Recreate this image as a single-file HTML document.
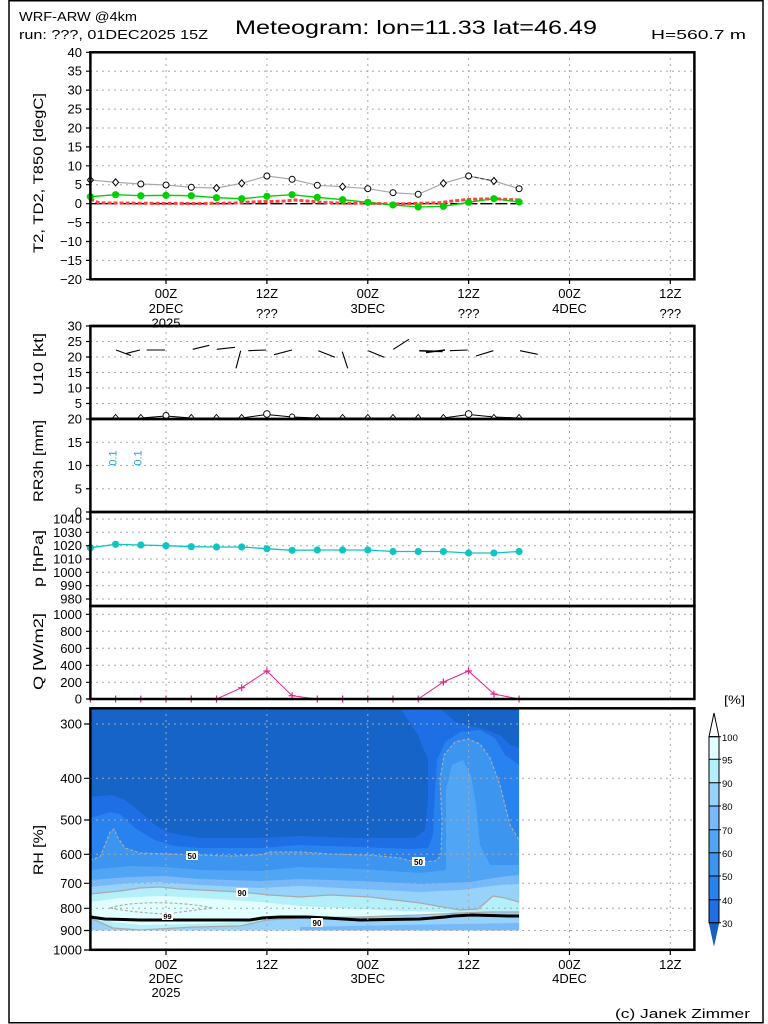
<!DOCTYPE html>
<html><head><meta charset="utf-8"><style>
html,body{margin:0;padding:0;background:#fff;}
svg{display:block;}
text{font-family:"Liberation Sans",sans-serif;fill:#000;}
</style></head><body>
<svg width="768" height="1024" viewBox="0 0 768 1024" xmlns="http://www.w3.org/2000/svg">
<defs>
<clipPath id="rhclip"><rect x="90.4" y="708.3" width="428.7" height="222.2"/></clipPath>
</defs>
<rect width="768" height="1024" fill="#fff"/>
<rect x="9" y="0.75" width="754" height="1022" fill="none" stroke="#000" stroke-width="1.5"/>

<!-- header -->
<text x="19" y="21" font-size="12.5" textLength="118" lengthAdjust="spacingAndGlyphs">WRF-ARW @4km</text>
<text x="19" y="39" font-size="12.5" textLength="189" lengthAdjust="spacingAndGlyphs">run: ???, 01DEC2025 15Z</text>
<text x="235" y="34" font-size="19" textLength="362" lengthAdjust="spacingAndGlyphs">Meteogram: lon=11.33 lat=46.49</text>
<text x="651" y="39" font-size="12.5" textLength="95" lengthAdjust="spacingAndGlyphs">H=560.7 m</text>

<!-- RH fill -->
<g clip-path="url(#rhclip)">
<rect x="90" y="708" width="430" height="223" fill="#1664c8"/>
<path fill="#1e6ee6" d="M90,797 L112,795 L125,800 L140,812 L155,825 L170,833 L200,838 L260,838 L300,836 L350,838 L415,838 L425,830 L428,800 L428,760 L418,735 L405,715 L400,708 L440,708 L455,722 L480,728 L500,735 L510,745 L519,748 L519,931 L90,931 Z"/>
<path fill="#2882f0" d="M90,818 L100,815 L110,812 L120,814 L135,828 L155,840 L175,846 L200,848 L260,848 L300,845 L360,847 L410,849 L428,848 L433,835 L435,790 L437,760 L445,742 L460,732 L480,730 L495,738 L505,755 L519,765 L519,931 L90,931 Z"/>
<path fill="#3c96f0" d="M90,860 L100,857 L105,845 L110,832 L114,829 L118,838 L125,848 L140,853 L170,854 L200,855 L230,856 L260,855 L270,852 L300,852 L330,854 L370,855 L400,858 L415,862 L435,861 L441,856 L442,820 L440,780 L444,755 L455,742 L468,739 L480,744 L490,758 L500,785 L510,825 L519,840 L519,931 L90,931 Z"/>
<path fill="#50a5f5" d="M90,870 L130,866 L165,867 L200,870 L260,871 L300,867 L360,869 L420,873 L446,870 L446,790 L452,765 L463,760 L471,775 L476,805 L480,845 L490,865 L519,865 L519,931 L90,931 Z"/>
<path fill="#78b9fa" d="M90,880 L130,877 L165,876 L200,879 L260,881 L300,879 L360,881 L420,884 L470,882 L500,877 L519,875 L519,931 L90,931 Z"/>
<path fill="#96d2fa" d="M90,887 L130,883 L160,882 L200,885 L260,888 L300,886 L360,889 L420,892 L460,890 L500,885 L519,884 L519,931 L90,931 Z"/>
<path fill="#b4f0fa" d="M90,894 L120,891 L140,888 L160,887 L180,889 L240,892 L270,895 L300,897 L330,895 L370,897 L420,903 L460,910 L478,909 L485,903 L493,896 L505,898 L519,902 L519,912 L490,912 L460,913 L420,915 L360,917 L300,918 L267,920 L240,926 L193,927 L140,930 L113,928 L90,918 Z"/>
<path fill="#e1ffff" d="M90,902 L120,898 L160,896 L200,898 L260,902 L300,906 L360,909 L400,911 L440,912 L460,913 L430,915.5 L360,916.5 L300,916.5 L267,918 L240,922 L193,924 L140,925 L113,922 L90,914 Z"/>
<path fill="#78b9fa" d="M300,927 L400,925 L519,923 L519,931 L300,931 Z"/>
<!-- contours -->
<path fill="none" stroke="#aaa" stroke-width="1.2" stroke-dasharray="3,2" d="M90,860 L100,857 L105,845 L110,832 L114,829 L118,838 L125,848 L140,853 L170,854 L200,855 L230,856 L260,855 L270,852 L300,852 L330,854 L370,855 L400,858 L415,862 L435,861 L441,856 L442,820 L440,780 L444,755 L455,742 L468,739 L480,744 L490,758 L500,785 L510,825 L519,840"/>
<path fill="none" stroke="#aaa" stroke-width="1.3" d="M90,894 L120,891 L140,888 L160,887 L180,889 L240,892 L270,895 L300,897 L330,895 L370,897 L420,903 L460,910 L478,909 L485,903 L493,896 L505,898 L519,902"/>
<path fill="none" stroke="#aaa" stroke-width="1.3" d="M519,912 L490,912 L460,913 L420,915 L360,917 L300,918 L267,920 L240,926 L193,927 L140,930 L113,928 L90,918"/>
<path fill="none" stroke="#aaa" stroke-width="1.1" stroke-dasharray="3,2" d="M110,908 C130,901 180,901 213,908 C195,910 180,912 167,914 M110,908 C130,912 150,913 163,914"/>
<path fill="none" stroke="#000" stroke-width="3" d="M90,917 L105,919 L140,920 L250,920 L262,918 L280,917 L307,917 L327,918 L360,920 L420,919 L445,917 L453,916 L472,915 L510,916 L519,916"/>
</g>
<!-- contour labels -->
<rect x="186" y="851" width="12" height="9" fill="#fff"/><text x="192" y="859" font-size="8" font-weight="bold" text-anchor="middle">50</text>
<rect x="412" y="857" width="13" height="9" fill="#fff"/><text x="418.5" y="865" font-size="8" font-weight="bold" text-anchor="middle">50</text>
<rect x="236" y="888" width="12" height="9" fill="#fff"/><text x="242" y="896" font-size="8" font-weight="bold" text-anchor="middle">90</text>
<rect x="311" y="918" width="12" height="9" fill="#fff"/><text x="317" y="926" font-size="8" font-weight="bold" text-anchor="middle">90</text>
<rect x="162" y="912" width="11" height="8" fill="#fff"/><text x="167.5" y="919" font-size="7.5" font-weight="bold" text-anchor="middle">99</text>

<!-- grids -->
<g fill="none" stroke="#a8a8a8" stroke-width="1" stroke-dasharray="2,4">
<path d="M90,71.2H694 M90,90.1H694 M90,109.1H694 M90,128H694 M90,146.9H694 M90,165.8H694 M90,184.7H694 M90,203.7H694 M90,222.6H694 M90,241.5H694 M90,260.4H694"/>
<path d="M166,52V279 M266.9,52V279 M367.8,52V279 M468.6,52V279 M569.5,52V279 M670.3,52V279"/>
<path d="M90,341.5H694 M90,357H694 M90,372.5H694 M90,388H694 M90,403.5H694 M166,326V419 M266.9,326V419 M367.8,326V419 M468.6,326V419 M569.5,326V419 M670.3,326V419"/>
<path d="M90,442.25H694 M90,465.5H694 M90,488.75H694 M166,419V512 M266.9,419V512 M367.8,419V512 M468.6,419V512 M569.5,419V512 M670.3,419V512"/>
<path d="M90,519H694 M90,532.3H694 M90,545.7H694 M90,559H694 M90,572.3H694 M90,585.7H694 M90,599H694 M166,512V606 M266.9,512V606 M367.8,512V606 M468.6,512V606 M569.5,512V606 M670.3,512V606"/>
<path d="M90,614.3H694 M90,631.3H694 M90,648.3H694 M90,665.3H694 M90,682.3H694 M166,606V699 M266.9,606V699 M367.8,606V699 M468.6,606V699 M569.5,606V699 M670.3,606V699"/>
<path d="M90,724H694 M90,778.3H694 M90,820H694 M90,854.3H694 M90,883.3H694 M90,908.3H694 M90,930.5H694 M166,708V950 M266.9,708V950 M367.8,708V950 M468.6,708V950 M569.5,708V950 M670.3,708V950"/>
</g>

<!-- Panel 1 data -->
<path d="M90.4,203.7H519.1" stroke="#000" stroke-width="1.3" stroke-dasharray="12,3" fill="none"/>
<polyline fill="none" stroke="#ff4040" stroke-width="3" stroke-dasharray="4,2" points="90.4,199 98,202.5 105,203 150,203.3 200,203.5 235,203 250,202 270,201.5 285,201 295,200 313,201.5 325,202.5 345,203.3 370,203.3 395,204 420,203.3 440,202.7 450,201.3 467,199.5 493,198.7 519,200"/>
<polyline fill="none" stroke="#a8a8a8" stroke-width="1.2" points="90.4,180 115.6,182.3 140.8,184 166,185 191.3,187.3 216.5,188 241.7,183.3 266.9,176 292.1,179.3 317.3,185.3 342.6,186.7 367.8,188.7 393,192.7 418.2,194.3 443.4,183.3 468.6,176 493.9,181 519.1,188.7"/>
<path d="M468.6,176 L493.9,181" stroke="#333" stroke-width="1" stroke-dasharray="4,2" fill="none"/>
<g fill="#fff" stroke="#000" stroke-width="1">
<path d="M90.4,176.5 l3,3.5 -3,3.5 -3,-3.5z"/>
<path d="M115.6,178.8 l3,3.5 -3,3.5 -3,-3.5z"/>
<circle cx="140.8" cy="184" r="3"/>
<circle cx="166" cy="185" r="3"/>
<circle cx="191.3" cy="187.3" r="3"/>
<path d="M216.5,184.5 l3,3.5 -3,3.5 -3,-3.5z"/>
<path d="M241.7,179.8 l3,3.5 -3,3.5 -3,-3.5z"/>
<circle cx="266.9" cy="176" r="3"/>
<circle cx="292.1" cy="179.3" r="3"/>
<circle cx="317.3" cy="185.3" r="3"/>
<path d="M342.6,183.2 l3,3.5 -3,3.5 -3,-3.5z"/>
<circle cx="367.8" cy="188.7" r="3"/>
<circle cx="393" cy="192.7" r="3"/>
<circle cx="418.2" cy="194.3" r="3"/>
<path d="M443.4,179.8 l3,3.5 -3,3.5 -3,-3.5z"/>
<circle cx="468.6" cy="176" r="3"/>
<path d="M493.9,177.5 l3,3.5 -3,3.5 -3,-3.5z"/>
<circle cx="519.1" cy="188.7" r="3"/>
</g>
<polyline fill="none" stroke="#00d000" stroke-width="1.3" points="90.4,196.7 115.6,194.7 140.8,195.7 166,195.3 191.3,195.7 216.5,197.7 241.7,198.7 266.9,196.3 292.1,194.7 317.3,197.3 342.6,199.7 367.8,202.3 393,205 418.2,207 443.4,206.3 468.6,202.3 493.9,198.7 519.1,202"/>
<g fill="#00d000">
<circle cx="90.4" cy="196.7" r="3.6"/><circle cx="115.6" cy="194.7" r="3.6"/><circle cx="140.8" cy="195.7" r="3.6"/><circle cx="166" cy="195.3" r="3.6"/><circle cx="191.3" cy="195.7" r="3.6"/><circle cx="216.5" cy="197.7" r="3.6"/><circle cx="241.7" cy="198.7" r="3.6"/><circle cx="266.9" cy="196.3" r="3.6"/><circle cx="292.1" cy="194.7" r="3.6"/><circle cx="317.3" cy="197.3" r="3.6"/><circle cx="342.6" cy="199.7" r="3.6"/><circle cx="367.8" cy="202.3" r="3.6"/><circle cx="393" cy="205" r="3.6"/><circle cx="418.2" cy="207" r="3.6"/><circle cx="443.4" cy="206.3" r="3.6"/><circle cx="468.6" cy="202.3" r="3.6"/><circle cx="493.9" cy="198.7" r="3.6"/><circle cx="519.1" cy="202" r="3.6"/>
</g>

<!-- Panel 2 wind barbs -->
<g stroke="#000" stroke-width="1.1" fill="none">
<path d="M116,350 L131,355.5 M126,353.5 L140,350"/>
<path d="M146.7,350 L165,350"/>
<path d="M192.7,349.3 L209.3,345.3"/>
<path d="M216.7,349.3 L235,347.3"/>
<path d="M240.7,350.7 L236,368.3"/>
<path d="M248.3,350.7 L266,350"/>
<path d="M274,354.7 L292,350"/>
<path d="M318.3,350.7 L335,357.3"/>
<path d="M342.3,351.7 L347.7,368.3"/>
<path d="M368.3,350.7 L384.3,357.3"/>
<path d="M393.3,349.3 L409,339.3"/>
<path d="M419.3,350.7 L442.7,351.5 M426,352.5 L445,350 M428,352 L437,351" stroke-width="1.5"/>
<path d="M450,350.7 L467.7,350"/>
<path d="M476,356 L493.3,350.7"/>
<path d="M520,350.7 L537.7,354.3"/>
</g>
<polyline fill="none" stroke="#000" stroke-width="1" points="90.4,418 115.6,418 140.8,418 166,416 191.3,418 216.5,418 241.7,418 266.9,414.5 292.1,417 317.3,418 342.6,418 367.8,418 393,418 418.2,418 443.4,418 468.6,414.5 493.9,417 519.1,418"/>
<g fill="#fff" stroke="#000" stroke-width="0.9">
<path d="M115.6,414.5 l3,3.5 h-6z"/><path d="M140.8,414.5 l3,3.5 h-6z"/><circle cx="166" cy="415.5" r="3"/><path d="M191.3,414.5 l3,3.5 h-6z"/><path d="M216.5,414.5 l3,3.5 h-6z"/><path d="M241.7,414.5 l3,3.5 h-6z"/><circle cx="266.9" cy="414" r="3.3"/><circle cx="292.1" cy="416.5" r="2.5"/><path d="M317.3,414.5 l3,3.5 h-6z"/><path d="M342.6,414.5 l3,3.5 h-6z"/><path d="M367.8,414.5 l3,3.5 h-6z"/><path d="M393,414.5 l3,3.5 h-6z"/><path d="M418.2,414.5 l3,3.5 h-6z"/><path d="M443.4,414.5 l3,3.5 h-6z"/><circle cx="468.6" cy="414" r="3.3"/><path d="M493.9,414.5 l3,3.5 h-6z"/><path d="M519.1,414.5 l3,3.5 h-6z"/>
</g>

<!-- Panel 3 text -->
<text transform="translate(116.5,458) rotate(-90)" font-size="11" fill="#1ea0dc" style="fill:#1ea0dc" text-anchor="middle">0.1</text>
<text transform="translate(141.5,458) rotate(-90)" font-size="11" fill="#1ea0dc" style="fill:#1ea0dc" text-anchor="middle">0.1</text>

<!-- Panel 4 pressure -->
<polyline fill="none" stroke="#10c4c4" stroke-width="1.3" points="90.4,547.7 115.6,544.3 140.8,545 166,545.7 191.3,546.7 216.5,547 241.7,547 266.9,548.7 292.1,550.3 317.3,550 342.6,550 367.8,550 393,551.5 418.2,551.5 443.4,551.5 468.6,553 493.9,553 519.1,551.5"/>
<g fill="#10c4c4">
<circle cx="90.4" cy="547.7" r="3.6"/><circle cx="115.6" cy="544.3" r="3.6"/><circle cx="140.8" cy="545" r="3.6"/><circle cx="166" cy="545.7" r="3.6"/><circle cx="191.3" cy="546.7" r="3.6"/><circle cx="216.5" cy="547" r="3.6"/><circle cx="241.7" cy="547" r="3.6"/><circle cx="266.9" cy="548.7" r="3.6"/><circle cx="292.1" cy="550.3" r="3.6"/><circle cx="317.3" cy="550" r="3.6"/><circle cx="342.6" cy="550" r="3.6"/><circle cx="367.8" cy="550" r="3.6"/><circle cx="393" cy="551.5" r="3.6"/><circle cx="418.2" cy="551.5" r="3.6"/><circle cx="443.4" cy="551.5" r="3.6"/><circle cx="468.6" cy="553" r="3.6"/><circle cx="493.9" cy="553" r="3.6"/><circle cx="519.1" cy="551.5" r="3.6"/>
</g>

<!-- Panel 5 Q -->
<polyline fill="none" stroke="#e6208c" stroke-width="1" points="90.4,699 216.5,699 241.7,687.7 266.9,671 292.1,695.7 317.3,699 418.2,699 443.4,682 468.6,671 493.9,694 519.1,699"/>
<path fill="none" stroke="#e6208c" stroke-width="1.2" d="M86.9,699h7M90.4,695.5v7 M112.1,699h7M115.6,695.5v7 M137.3,699h7M140.8,695.5v7 M162.5,699h7M166,695.5v7 M187.8,699h7M191.3,695.5v7 M213,699h7M216.5,695.5v7 M238.2,687.7h7M241.7,684.2v7 M263.4,671h7M266.9,667.5v7 M288.6,695.7h7M292.1,692.2v7 M313.8,699h7M317.3,695.5v7 M339.1,699h7M342.6,695.5v7 M364.3,699h7M367.8,695.5v7 M389.5,699h7M393,695.5v7 M414.7,699h7M418.2,695.5v7 M439.9,682h7M443.4,678.5v7 M465.1,671h7M468.6,667.5v7 M490.4,694h7M493.9,690.5v7 M515.6,699h7M519.1,695.5v7"/>

<!-- frames -->
<g fill="none" stroke="#000" stroke-width="2.5">
<rect x="90.4" y="52.3" width="604" height="227"/>
<rect x="90.4" y="326" width="604" height="93"/>
<rect x="90.4" y="419" width="604" height="93"/>
<rect x="90.4" y="512" width="604" height="94"/>
<rect x="90.4" y="606" width="604" height="93"/>
<rect x="90.4" y="708.3" width="604" height="241.5"/>
</g>

<!-- ticks -->
<g stroke="#000" stroke-width="1.2" fill="none">
<path d="M86,52.3H90 M86,71.2H90 M86,90.1H90 M86,109.1H90 M86,128H90 M86,146.9H90 M86,165.8H90 M86,184.7H90 M86,203.7H90 M86,222.6H90 M86,241.5H90 M86,260.4H90 M86,279.3H90"/>
<path d="M86,326H90 M86,341.5H90 M86,357H90 M86,372.5H90 M86,388H90 M86,403.5H90 M86,419H90 M86,442.25H90 M86,465.5H90 M86,488.75H90 M86,512H90"/>
<path d="M86,519H90 M86,532.3H90 M86,545.7H90 M86,559H90 M86,572.3H90 M86,585.7H90 M86,599H90 M86,614.3H90 M86,631.3H90 M86,648.3H90 M86,665.3H90 M86,682.3H90 M86,699H90"/>
<path d="M84,724H90 M84,778.3H90 M84,820H90 M84,854.3H90 M84,883.3H90 M84,908.3H90 M84,930.5H90 M84,950H90"/>
<path d="M166,279V284 M266.9,279V284 M367.8,279V284 M468.6,279V284 M569.5,279V284 M670.3,279V284"/>
<path d="M166,950V955 M266.9,950V955 M367.8,950V955 M468.6,950V955 M569.5,950V955 M670.3,950V955"/>
</g>

<!-- y labels -->
<g font-size="13" text-anchor="end">
<text x="82" y="56.8">40</text><text x="82" y="75.7">35</text><text x="82" y="94.6">30</text><text x="82" y="113.6">25</text><text x="82" y="132.5">20</text><text x="82" y="151.4">15</text><text x="82" y="170.3">10</text><text x="82" y="189.2">5</text><text x="82" y="208.2">0</text><text x="82" y="227.1">−5</text><text x="82" y="246">−10</text><text x="82" y="264.9">−15</text><text x="82" y="283.8">−20</text>
<text x="82" y="330.5">30</text><text x="82" y="346">25</text><text x="82" y="361.5">20</text><text x="82" y="377">15</text><text x="82" y="392.5">10</text><text x="82" y="408">5</text>
<text x="82" y="423.5">20</text><text x="82" y="446.75">15</text><text x="82" y="470">10</text><text x="82" y="493.25">5</text><text x="82" y="516.5">0</text>
<text x="82" y="523.5">1040</text><text x="82" y="536.8">1030</text><text x="82" y="550.2">1020</text><text x="82" y="563.5">1010</text><text x="82" y="576.8">1000</text><text x="82" y="590.2">990</text><text x="82" y="603.5">980</text>
<text x="82" y="618.8">1000</text><text x="82" y="635.8">800</text><text x="82" y="652.8">600</text><text x="82" y="669.8">400</text><text x="82" y="686.8">200</text><text x="82" y="703.5">0</text>
<text x="82" y="728.5">300</text><text x="82" y="782.8">400</text><text x="82" y="824.5">500</text><text x="82" y="858.8">600</text><text x="82" y="887.8">700</text><text x="82" y="912.8">800</text><text x="82" y="935">900</text><text x="82" y="954.5">1000</text>
</g>

<!-- y titles -->
<g font-size="14" text-anchor="middle">
<text transform="translate(43,173) rotate(-90)" textLength="160" lengthAdjust="spacingAndGlyphs">T2, TD2, T850 [degC]</text>
<text transform="translate(43,364) rotate(-90)" textLength="62" lengthAdjust="spacingAndGlyphs">U10 [kt]</text>
<text transform="translate(43,461) rotate(-90)" textLength="82" lengthAdjust="spacingAndGlyphs">RR3h [mm]</text>
<text transform="translate(43,558.5) rotate(-90)" textLength="57" lengthAdjust="spacingAndGlyphs">p [hPa]</text>
<text transform="translate(43,651.5) rotate(-90)" textLength="77" lengthAdjust="spacingAndGlyphs">Q [W/m2]</text>
<text transform="translate(43,850) rotate(-90)" textLength="50" lengthAdjust="spacingAndGlyphs">RH [%]</text>
</g>

<!-- x labels panel 1 -->
<g font-size="13" text-anchor="middle">
<text x="166" y="298">00Z</text><text x="166" y="313">2DEC</text><text x="166" y="327.5">2025</text>
<text x="266.9" y="298">12Z</text><text x="266.9" y="318">???</text>
<text x="367.8" y="298">00Z</text><text x="367.8" y="313">3DEC</text>
<text x="468.6" y="298">12Z</text><text x="468.6" y="318">???</text>
<text x="569.5" y="298">00Z</text><text x="569.5" y="313">4DEC</text>
<text x="670.3" y="298">12Z</text><text x="670.3" y="318">???</text>
</g>
<!-- redraw top frame of panel 2 over 2025 -->
<path d="M90.4,326H694.4" stroke="#000" stroke-width="2.5"/>

<!-- x labels RH -->
<g font-size="13" text-anchor="middle">
<text x="166" y="969">00Z</text><text x="166" y="983">2DEC</text><text x="166" y="997">2025</text>
<text x="266.9" y="969">12Z</text>
<text x="367.8" y="969">00Z</text><text x="367.8" y="983">3DEC</text>
<text x="468.6" y="969">12Z</text>
<text x="569.5" y="969">00Z</text><text x="569.5" y="983">4DEC</text>
<text x="670.3" y="969">12Z</text>
</g>

<!-- colorbar -->
<text x="724" y="704" font-size="12" textLength="21" lengthAdjust="spacingAndGlyphs">[%]</text>
<polygon points="709,736.7 719,736.7 714,713" fill="#fff" stroke="#000" stroke-width="1"/>
<rect x="709" y="736.7" width="10" height="22.6" fill="#e1ffff"/>
<rect x="709" y="759.3" width="10" height="23.4" fill="#b4f0fa"/>
<rect x="709" y="782.7" width="10" height="23.3" fill="#96d2fa"/>
<rect x="709" y="806" width="10" height="23.7" fill="#78b9fa"/>
<rect x="709" y="829.7" width="10" height="23" fill="#50a5f5"/>
<rect x="709" y="852.7" width="10" height="23.3" fill="#3c96f0"/>
<rect x="709" y="876" width="10" height="23.7" fill="#2882f0"/>
<rect x="709" y="899.7" width="10" height="23" fill="#1e6ee6"/>
<polygon points="709,922.7 719,922.7 714,945.7" fill="#1660c0" stroke="#1660c0" stroke-width="0.5"/>
<rect x="709" y="736.7" width="10" height="186" fill="none" stroke="#000" stroke-width="1"/>
<path d="M709,759.3H721 M709,782.7H721 M709,806H721 M709,829.7H721 M709,852.7H721 M709,876H721 M709,899.7H721 M709,922.7H721 M709,736.7H721" stroke="#000" stroke-width="1"/>
<g font-size="9.5">
<text x="722" y="741">100</text><text x="722" y="763.5">95</text><text x="722" y="787">90</text><text x="722" y="810">80</text><text x="722" y="834">70</text><text x="722" y="857">60</text><text x="722" y="880">50</text><text x="722" y="904">40</text><text x="722" y="927">30</text>
</g>

<!-- footer -->
<text x="615" y="1018" font-size="13" textLength="135" lengthAdjust="spacingAndGlyphs">(c) Janek Zimmer</text>
</svg>
</body></html>
